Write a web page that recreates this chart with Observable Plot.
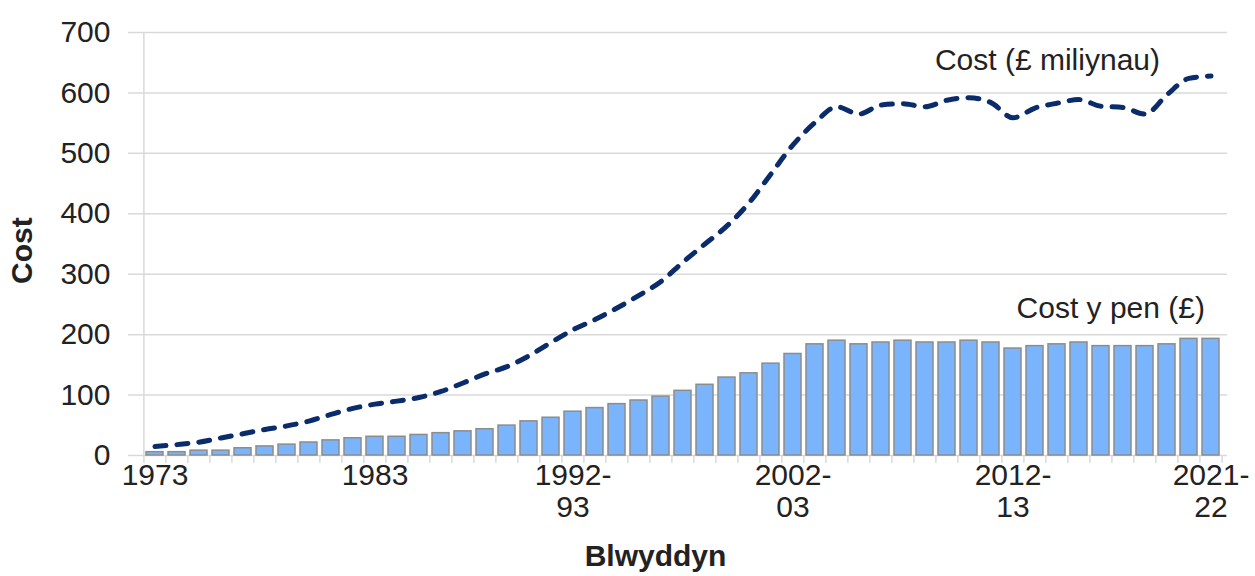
<!DOCTYPE html>
<html><head><meta charset="utf-8">
<script src="https://cdn.jsdelivr.net/npm/d3@7"></script>
<script src="https://cdn.jsdelivr.net/npm/@observablehq/plot@0.6"></script>
<style>body{margin:0;background:#fff;} #chart svg{display:block}</style>
</head><body><div id="chart"></div>
<script>
const categories = ["1973","1974","1975","1976","1977","1978","1979","1980","1981","1982","1983","1984","1985","1986","1987","1988","1989","1990","1991",
  "1992-93","1993-94","1994-95","1995-96","1996-97","1997-98","1998-99","1999-00","2000-01","2001-02","2002-03","2003-04","2004-05","2005-06","2006-07",
  "2007-08","2008-09","2009-10","2010-11","2011-12","2012-13","2013-14","2014-15","2015-16","2016-17","2017-18","2018-19","2019-20","2020-21","2021-22"];
const costPerHead = [5.5,5.5,8,8,12,15,18,21.5,25,28.5,31,31,34,37,40,43.5,49.5,56.5,62.5,
  72.5,78.5,85,91,97.5,107,117,129,136,152,168,184,190,184,187,190,187,187,190,187,177,181,184,187,181,181,181,184,193,193];
const costMillions = [15,18,22,29,36,43,49,57,68,78,85,90,96,106,120,135,147,165,187,
  208,225,244,265,288,320,350,380,418,466,514,551,577,565,580,582,577,588,592,584,559,575,583,589,578,576,565,597,624,628];
const xTickLabels = ["1973","1983","1992-93","2002-03","2012-13","2021-22"];
const yTicks = [0,100,200,300,400,500,600,700];
const seriesLabels = ["Cost (£ miliynau)", "Cost y pen (£)"];

const W = 1255, H = 576, mL = 137, mR = 28, mT = 32, mB = 121;
const step = (W - mL - mR) / categories.length;
const font = "'Liberation Sans', Arial, sans-serif";
const FS = 30;
const grid = "#d9d9d9";
const rows = categories.map((c, i) => ({cat: c, perHead: costPerHead[i], millions: costMillions[i]}));
const fmt = d => d.includes("-") ? d.replace("-", "-\n") : d;

const chart = Plot.plot({
  width: W, height: H, marginLeft: mL, marginRight: mR, marginTop: mT, marginBottom: mB,
  style: {fontFamily: font, fontSize: FS + "px", color: "#222", background: "#fff"},
  x: {type: "band", domain: categories, paddingInner: 0.25, paddingOuter: 0.125, axis: null},
  y: {domain: [0, 700], axis: null},
  marks: [
    Plot.ruleY(yTicks, {stroke: grid, strokeWidth: 1.5, insetLeft: -9}),
    Plot.ruleX([categories[0]], {dx: -step / 2, y1: 0, y2: 700, stroke: grid, strokeWidth: 1.5}),
    Plot.ruleX(categories, {dx: -step / 2, y1: 0, y2: -13, stroke: grid, strokeWidth: 1.5}),
    Plot.ruleX([categories[categories.length - 1]], {dx: step / 2, y1: 0, y2: -13, stroke: grid, strokeWidth: 1.5}),
    Plot.barY(rows, {x: "cat", y: "perHead", fill: "#79b4fd", stroke: "#8c8c8c", strokeWidth: 1.5}),
    Plot.line(rows, {x: "cat", y: "millions", curve: "monotone-x", stroke: "#0b2c6b", strokeWidth: 5,
      strokeDasharray: "11,11", strokeLinecap: "round"}),
    Plot.axisY({ticks: yTicks, tickSize: 0, tickPadding: 27, fontSize: FS, label: null}),
    Plot.text(xTickLabels, {x: d => d, frameAnchor: "bottom", dy: 7, lineAnchor: "top", lineHeight: 1.07, text: fmt, fontSize: FS}),
    Plot.text(["Cost"], {frameAnchor: "left", dx: -115, dy: 40, rotate: -90, fontWeight: "bold", fontSize: FS}),
    Plot.text(["Blwyddyn"], {frameAnchor: "bottom", dx: -27, dy: 110, fontWeight: "bold", fontSize: FS}),
    Plot.text([seriesLabels[0]], {x: () => categories[45], y: () => 654, textAnchor: "end", dx: 15, fontSize: FS}),
    Plot.text([seriesLabels[1]], {x: () => categories[48], y: () => 243, textAnchor: "end", dx: -6, fontSize: FS})
  ]
});
document.getElementById("chart").appendChild(chart);
</script>
</body></html>
